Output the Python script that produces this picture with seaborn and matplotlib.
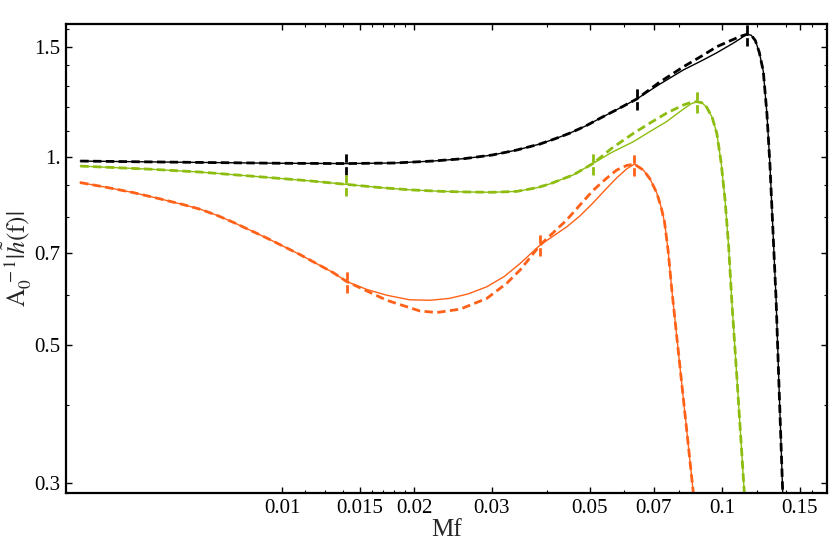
import numpy as np
import pandas as pd
import matplotlib
matplotlib.use("Agg")
import matplotlib.pyplot as plt
import seaborn as sns
from matplotlib.ticker import FixedLocator, FixedFormatter, NullFormatter

# ---------------- data ----------------
black_x = [0.00348, 0.0050, 0.0075, 0.0100, 0.0140, 0.0180, 0.0220, 0.0260, 0.0300,
           0.0340, 0.0386, 0.0420, 0.0450, 0.0490, 0.0528, 0.0580, 0.0640, 0.0720,
           0.0817, 0.0900, 0.0973, 0.1061, 0.1100, 0.1138, 0.1165, 0.1190, 0.1215,
           0.1241, 0.1265, 0.1285, 0.1310, 0.1327, 0.1346, 0.1374, 0.1380]
black_solid = [0.984, 0.981, 0.978, 0.976, 0.975, 0.977, 0.984, 0.993, 1.006,
               1.024, 1.048, 1.070, 1.090, 1.120, 1.152, 1.192, 1.237, 1.305,
               1.377, 1.425, 1.467, 1.520, 1.545, 1.570, 1.565, 1.535, 1.470,
               1.370, 1.170, 0.970, 0.720, 0.590, 0.438, 0.289, 0.280]
black_dashed = [0.984, 0.981, 0.978, 0.976, 0.975, 0.977, 0.984, 0.993, 1.006,
                1.024, 1.048, 1.070, 1.090, 1.120, 1.152, 1.192, 1.237, 1.315,
                1.393, 1.450, 1.500, 1.541, 1.558, 1.570, 1.565, 1.535, 1.470,
                1.370, 1.170, 0.970, 0.720, 0.590, 0.438, 0.289, 0.280]

green_x = [0.00348, 0.0050, 0.0065, 0.0090, 0.0115, 0.0140, 0.0165, 0.0195, 0.0230,
           0.0263, 0.0300, 0.0342, 0.0380, 0.0407, 0.0459, 0.0510, 0.0560, 0.0629,
           0.0690, 0.0748, 0.0817, 0.0850, 0.0876, 0.0900, 0.0923, 0.0950, 0.0973,
           0.0995, 0.1016, 0.1035, 0.1052, 0.1082, 0.1124, 0.1130]
green_solid = [0.966, 0.955, 0.945, 0.928, 0.915, 0.903, 0.893, 0.885, 0.880,
               0.878, 0.877, 0.880, 0.892, 0.905, 0.935, 0.976, 1.015, 1.057,
               1.100, 1.138, 1.192, 1.215, 1.225, 1.220, 1.200, 1.155, 1.090,
               0.980, 0.852, 0.720, 0.590, 0.438, 0.289, 0.280]
green_dashed = [0.966, 0.955, 0.945, 0.928, 0.915, 0.903, 0.893, 0.885, 0.880,
                0.878, 0.877, 0.880, 0.892, 0.905, 0.935, 0.976, 1.030, 1.090,
                1.135, 1.174, 1.210, 1.222, 1.225, 1.220, 1.200, 1.155, 1.090,
                0.980, 0.852, 0.720, 0.590, 0.438, 0.289, 0.280]

orange_solid_x = [0.003475, 0.003996, 0.004592, 0.005281, 0.005967, 0.006511, 0.007104,
                  0.007751, 0.009230, 0.010988, 0.013078, 0.01403, 0.01558, 0.0173,
                  0.0195, 0.0217, 0.0240, 0.0265, 0.0292, 0.0320, 0.0348, 0.0386,
                  0.04436, 0.04756, 0.05089, 0.05450, 0.05764, 0.06072, 0.06319,
                  0.06624, 0.06862, 0.07106, 0.07268, 0.07401, 0.07539, 0.07697,
                  0.08025, 0.08305, 0.08605, 0.0866]
orange_solid = [0.909, 0.893, 0.876, 0.856, 0.838, 0.824, 0.806,
                0.785, 0.741, 0.697, 0.652, 0.631, 0.613, 0.600,
                0.590, 0.589, 0.593, 0.603, 0.619, 0.643, 0.675, 0.722,
                0.772, 0.804, 0.843, 0.888, 0.925, 0.956, 0.973,
                0.952, 0.921, 0.875, 0.831, 0.786, 0.709, 0.608,
                0.4605, 0.367, 0.2894, 0.280]
orange_dashed_x = [0.003475, 0.003996, 0.004592, 0.005281, 0.005967, 0.006511, 0.007104,
                   0.007751, 0.009230, 0.010988, 0.013078, 0.01403, 0.0173, 0.0206,
                   0.0225, 0.0254, 0.0292, 0.0324, 0.0348, 0.0386, 0.04436, 0.04756,
                   0.0510, 0.05450, 0.05764, 0.06072, 0.06319, 0.06624, 0.06862,
                   0.07106, 0.07268, 0.07401, 0.07539, 0.07697, 0.08025, 0.08305,
                   0.08605, 0.0866]
orange_dashed = [0.909, 0.893, 0.876, 0.856, 0.838, 0.824, 0.806,
                 0.785, 0.741, 0.697, 0.652, 0.631, 0.589, 0.566,
                 0.563, 0.570, 0.593, 0.627, 0.659, 0.722, 0.792, 0.837,
                 0.884, 0.922, 0.952, 0.968, 0.973, 0.952, 0.921,
                 0.875, 0.831, 0.786, 0.709, 0.608, 0.4605, 0.367,
                 0.2894, 0.280]

# vertical dashed markers
black_mark_x = [0.0140, 0.0640, 0.1138]
black_mark_y = [0.975, 1.237, 1.570]
green_mark_x = [0.0140, 0.0510, 0.0876]
green_mark_y = [0.903, 0.976, 1.225]
orange_mark_x = [0.01403, 0.0386, 0.06319]
orange_mark_y = [0.631, 0.722, 0.973]

x_major = [0.01, 0.015, 0.02, 0.03, 0.05, 0.07, 0.1, 0.15]
x_major_labels = ["0.01", "0.015", "0.02", "0.03", "0.05", "0.07", "0.1", "0.15"]
x_minor = [0.01125, 0.0125, 0.01375, 0.016, 0.017, 0.018, 0.019,
           0.04, 0.06, 0.08, 0.12, 0.14, 0.16]
y_major = [0.3, 0.5, 0.7, 1.0, 1.5]
y_major_labels = ["0.3", "0.5", "0.7", "1.", "1.5"]
y_minor = [0.4, 0.6, 0.8, 0.9, 1.1, 1.2, 1.3, 1.4, 1.6]

# ---------------- styling ----------------
sns.set_style("ticks")
plt.rcParams["font.family"] = ["Liberation Serif", "DejaVu Serif"]
plt.rcParams["mathtext.fontset"] = "stix"

BLACK = "#000000"
GREEN = "#8cbd10"
ORANGE = "#ff6118"
DASH = (0, (3.0, 1.6))

fig = plt.figure(figsize=(8.3, 5.5), dpi=100)
ax = fig.add_axes([66 / 830, 1 - 493 / 550, (827 - 66) / 830, (493 - 23.5) / 550])

curves = [
    (black_x, black_solid, black_x, black_dashed, BLACK),
    (green_x, green_solid, green_x, green_dashed, GREEN),
    (orange_solid_x, orange_solid, orange_dashed_x, orange_dashed, ORANGE),
]
for xs, ys, xd, yd, col in curves:
    df_s = pd.DataFrame({"Mf": xs, "amp": ys})
    df_d = pd.DataFrame({"Mf": xd, "amp": yd})
    sns.lineplot(data=df_s, x="Mf", y="amp", ax=ax, color=col, lw=1.0,
                 estimator=None, sort=False)
    sns.lineplot(data=df_d, x="Mf", y="amp", ax=ax, color=col, lw=2.0,
                 linestyle=DASH, estimator=None, sort=False)

for mx, my, col in [(black_mark_x, black_mark_y, BLACK),
                    (green_mark_x, green_mark_y, GREEN),
                    (orange_mark_x, orange_mark_y, ORANGE)]:
    my = np.asarray(my)
    ax.vlines(mx, my / 1.043, my * 1.043, colors=col, lw=2.0,
              linestyles=[DASH], clip_on=True)

ax.set_xscale("log")
ax.set_yscale("log")
ax.set_xlim(0.003229, 0.1732)
ax.set_ylim(0.2894, 1.634)

ax.xaxis.set_major_locator(FixedLocator(x_major))
ax.xaxis.set_major_formatter(FixedFormatter(x_major_labels))
ax.xaxis.set_minor_locator(FixedLocator(x_minor))
ax.xaxis.set_minor_formatter(NullFormatter())
ax.yaxis.set_major_locator(FixedLocator(y_major))
ax.yaxis.set_major_formatter(FixedFormatter(y_major_labels))
ax.yaxis.set_minor_locator(FixedLocator(y_minor))
ax.yaxis.set_minor_formatter(NullFormatter())

ax.tick_params(which="both", direction="in", top=True, right=True,
               colors="black", labelsize=15, pad=4)
ax.tick_params(which="major", length=4.5, width=1.0)
ax.tick_params(which="minor", length=2.5, width=0.8)
for sp in ax.spines.values():
    sp.set_visible(True)
    sp.set_linewidth(1.6)
    sp.set_color("black")

ax.set_xlabel("Mf", fontsize=18, labelpad=1)
ax.set_ylabel(r"$\mathrm{A}_0^{\;-1}|\tilde{h}(\mathrm{f})|$", fontsize=18, labelpad=0)

fig.savefig("out.png", dpi=100)
